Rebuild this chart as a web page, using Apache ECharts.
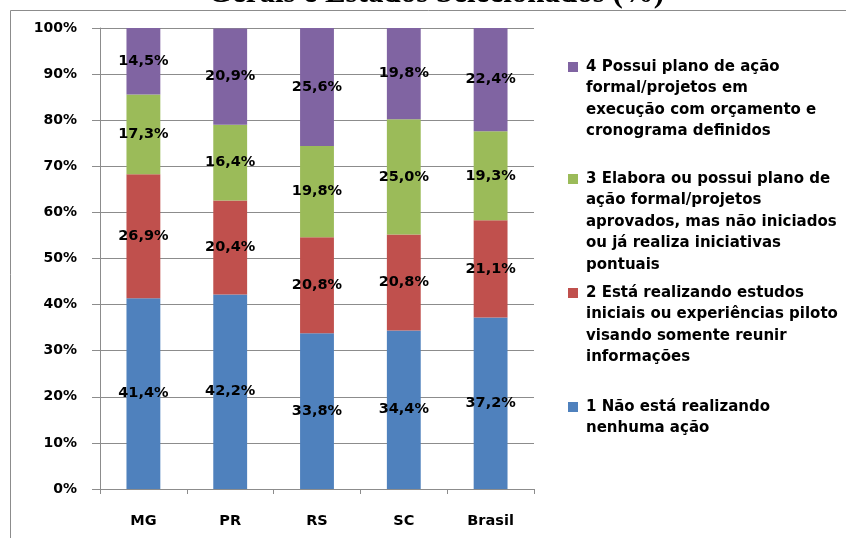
<!DOCTYPE html>
<html>
<head>
<meta charset="utf-8">
<script src="https://cdn.jsdelivr.net/npm/echarts@6/dist/echarts.min.js"></script>
<style>
  html, body { margin: 0; padding: 0; background: #fff; overflow: hidden; }
  #chart { width: 846px; height: 538px; }
</style>
</head>
<body>
<div id="chart"></div>
<script>
// Categories (states and the national total)
const categories = ['MG', 'PR', 'RS', 'SC', 'Brasil'];

// Stage names, as they appear in the legend
const name1 = '1 Não está realizando\nnenhuma ação';
const name2 = '2 Está realizando estudos\niniciais ou experiências piloto\nvisando somente reunir\ninformações';
const name3 = '3 Elabora ou possui plano de\nação formal/projetos\naprovados, mas não iniciados\nou já realiza iniciativas\npontuais';
const name4 = '4 Possui plano de ação\nformal/projetos em\nexecução com orçamento e\ncronograma definidos';

// Share of municipalities in each stage (%)
const stage1 = [41.4, 42.2, 33.8, 34.4, 37.2];
const stage2 = [26.9, 20.4, 20.8, 20.8, 21.1];
const stage3 = [17.3, 16.4, 19.8, 25.0, 19.3];
const stage4 = [14.5, 20.9, 25.6, 19.8, 22.4];

const colors = ['#4F81BD', '#C0504D', '#9BBB59', '#8064A2'];
const FONT = 'DejaVu Sans';
const GRID_COLOR = '#8C8C8C';

const fmtPct = v => v.toFixed(1).replace('.', ',') + '%';

function makeSeries(name, data, color) {
  return {
    name: name,
    type: 'bar',
    stack: 'total',
    data: data,
    barWidth: '39%',
    itemStyle: { color: color },
    label: {
      show: true,
      position: 'inside',
      color: '#000',
      fontFamily: FONT,
      fontWeight: 'bold',
      fontSize: 14.5,
      formatter: p => fmtPct(p.value)
    },
    emphasis: { disabled: true }
  };
}

// Legend entry: square marker aligned with the first text line
const LINE_H = 21.5;
function legendFor(name, lines, top) {
  const h = lines * LINE_H;
  return {
    data: [name],
    left: 568,
    top: top,
    padding: 0,
    orient: 'vertical',
    itemWidth: 13,
    itemHeight: h,
    icon: 'path://M0,0M13,' + h + 'M0,6h10v10h-10z',
    textStyle: {
      fontFamily: FONT,
      fontWeight: 'bold',
      fontSize: 15,
      lineHeight: LINE_H,
      color: '#000'
    }
  };
}

const chart = echarts.init(document.getElementById('chart'), null, { renderer: 'canvas' });

chart.setOption({
  backgroundColor: '#fff',
  animation: false,
  color: colors,
  graphic: [
    {
      // frame around the chart area; its right and bottom edges lie past the view
      type: 'polyline',
      shape: { points: [[10.5, 538], [10.5, 10.5], [846, 10.5]] },
      style: { fill: 'none', stroke: '#8C8C8C', lineWidth: 1 },
      silent: true
    },
    {
      type: 'text',
      x: 436,
      y: 9,
      style: {
        text: 'Gerais e Estados Selecionados (%)',
        font: 'bold 31px "Liberation Serif"',
        fill: '#000',
        align: 'center',
        verticalAlign: 'bottom'
      },
      silent: true
    }
  ],
  legend: [
    legendFor(name4, 4, 56),
    legendFor(name3, 5, 168),
    legendFor(name2, 4, 282),
    legendFor(name1, 2, 396)
  ],
  grid: { left: 100, right: 312, top: 28, bottom: 49, containLabel: false },
  xAxis: {
    type: 'category',
    data: categories,
    axisLine: { show: true, lineStyle: { color: GRID_COLOR, width: 1 } },
    axisTick: { show: true, length: 5, alignWithLabel: false, lineStyle: { color: GRID_COLOR } },
    axisLabel: {
      margin: 25,
      color: '#000',
      fontFamily: FONT,
      fontWeight: 'bold',
      fontSize: 14.5
    }
  },
  yAxis: {
    type: 'value',
    min: 0,
    max: 100,
    interval: 10,
    axisLine: { show: true, lineStyle: { color: GRID_COLOR, width: 1 } },
    axisTick: { show: true, length: 8, lineStyle: { color: GRID_COLOR } },
    splitLine: { show: true, lineStyle: { color: GRID_COLOR, width: 1 } },
    axisLabel: {
      margin: 23,
      color: '#000',
      fontFamily: FONT,
      fontWeight: 'bold',
      fontSize: 14,
      formatter: '{value}%'
    }
  },
  series: [
    makeSeries(name1, stage1, colors[0]),
    makeSeries(name2, stage2, colors[1]),
    makeSeries(name3, stage3, colors[2]),
    makeSeries(name4, stage4, colors[3])
  ]
});
</script>
</body>
</html>
